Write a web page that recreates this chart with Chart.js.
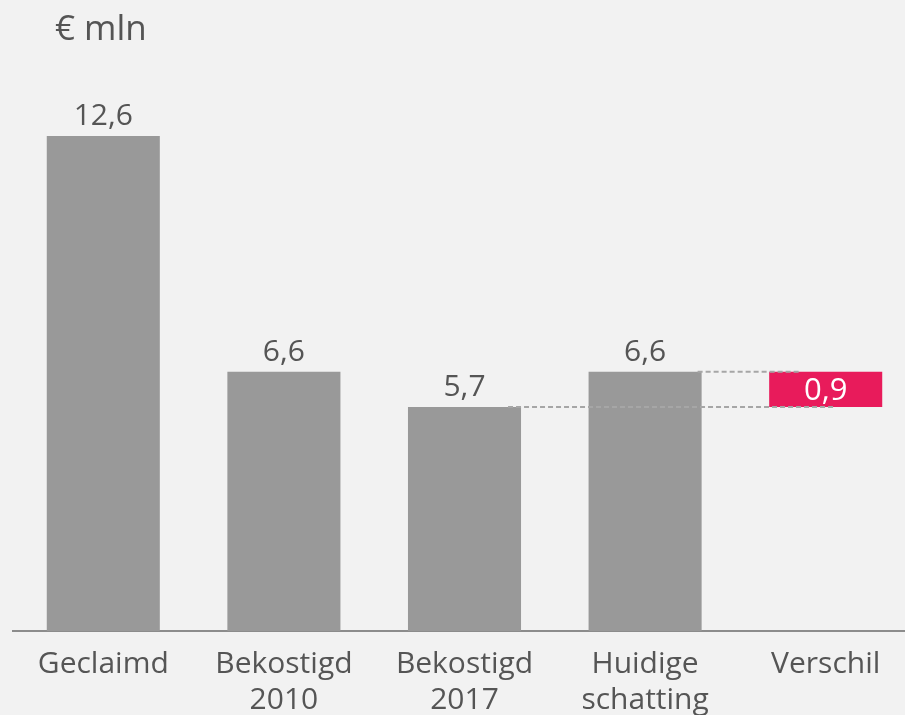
<!DOCTYPE html>
<html>
<head>
<meta charset="utf-8">
<script src="https://cdn.jsdelivr.net/npm/chart.js@4"></script>
<style>
  html, body { margin: 0; padding: 0; background: #f2f2f2; overflow: hidden; }
  #wrap { width: 905px; height: 715px; overflow: hidden; }
</style>
</head>
<body>
<div id="wrap"><canvas id="myChart" width="916" height="733"></canvas></div>
<script>
const categories = [['Geclaimd'], ['Bekostigd', '2010'], ['Bekostigd', '2017'], ['Huidige', 'schatting'], ['Verschil']];
const amounts = [12.6, 6.6, 5.7, 6.6];
// verschil loopt van bekostigd 2017 naar huidige schatting
const verschil = [5.7, 6.6];
const unit = '€ mln';

const grey = '#999999';
const pink = '#e81b5b';
const textColor = '#555555';
const fmt = v => v.toFixed(1).replace('.', ',');

const labelPlugin = {
  id: 'labels',
  afterDatasetsDraw(chart) {
    const ctx = chart.ctx;
    const bars = chart.getDatasetMeta(0).data;
    ctx.save();

    // stippellijnen naar het verschil-blok
    ctx.strokeStyle = '#a6a6a6';
    ctx.lineWidth = 2;
    ctx.setLineDash([5, 3]);
    const b2 = bars[2], b3 = bars[3], b4 = bars[4];
    ctx.beginPath();
    ctx.moveTo(b2.x + b2.width / 2 - 13, b2.y);
    ctx.lineTo(b4.x + 10, b2.y);
    ctx.moveTo(b3.x + b3.width / 2 - 4, b3.y);
    ctx.lineTo(b4.x - b4.width / 2 + 31, b3.y);
    ctx.stroke();
    ctx.setLineDash([]);

    ctx.textAlign = 'center';
    ctx.textBaseline = 'alphabetic';
    ctx.font = '30px "Open Sans"';
    ctx.fillStyle = textColor;
    amounts.forEach((v, i) => {
      ctx.fillText(fmt(v), bars[i].x, bars[i].y - 11);
    });

    ctx.font = '31px "Open Sans"';
    ctx.fillStyle = '#ffffff';
    ctx.fillText(fmt(verschil[1] - verschil[0]), b4.x, b4.base - 7);

    ctx.font = '35px "Open Sans"';
    ctx.fillStyle = textColor;
    ctx.textAlign = 'left';
    ctx.fillText(unit, 55, 40);
    ctx.restore();
  }
};

const ctx = document.getElementById('myChart').getContext('2d');
const myChart = new Chart(ctx, {
  type: 'bar',
  data: {
    labels: categories,
    datasets: [{
      data: [...amounts, verschil],
      backgroundColor: [grey, grey, grey, grey, pink],
      borderWidth: 0,
      categoryPercentage: 1,
      barPercentage: 0.626
    }]
  },
  options: {
    responsive: false,
    animation: false,
    layout: { padding: { left: 13, right: 0, top: 81, bottom: 0 } },
    plugins: { legend: { display: false }, tooltip: { enabled: false } },
    scales: {
      x: {
        grid: { display: false, drawTicks: false },
        border: { display: true, color: '#8c8c8c', width: 2 },
        ticks: {
          color: textColor,
          padding: 15,
          maxRotation: 0,
          autoSkip: false,
          font: { family: 'Open Sans', size: 30, lineHeight: 1.2 }
        }
      },
      y: {
        display: false,
        min: 0,
        max: 14
      }
    }
  },
  plugins: [labelPlugin]
});
</script>
</body>
</html>
